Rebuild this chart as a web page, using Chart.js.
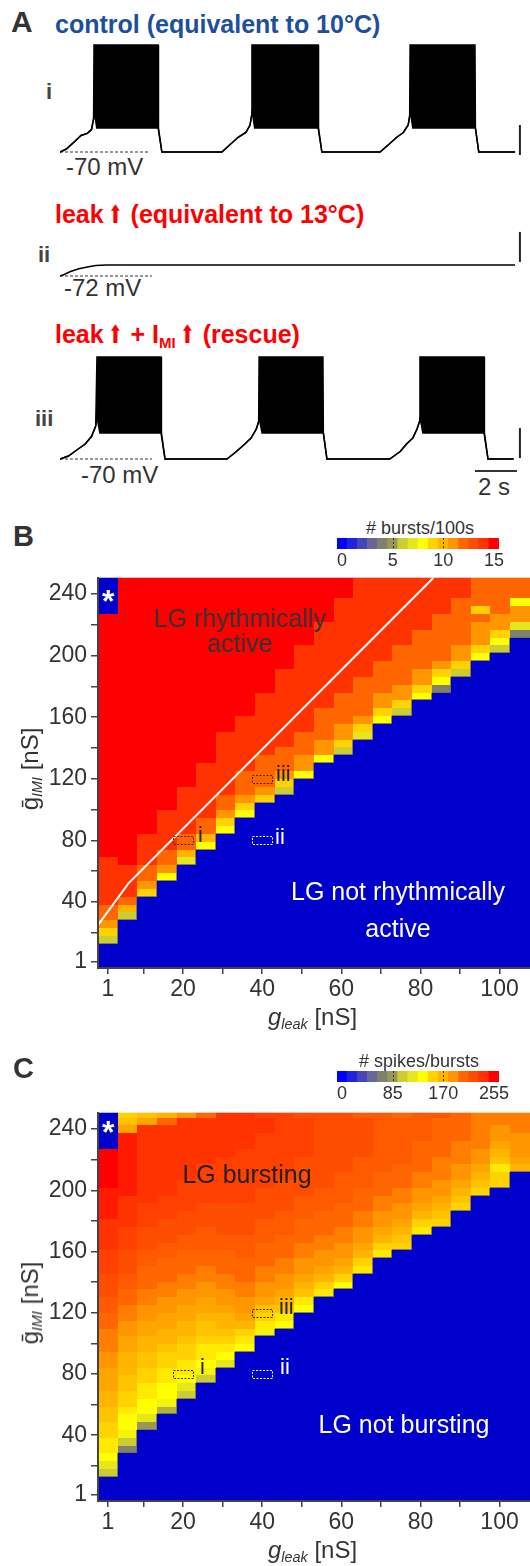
<!DOCTYPE html>
<html>
<head>
<meta charset="utf-8">
<script src="https://cdn.jsdelivr.net/npm/chart.js@4/dist/chart.umd.min.js"></script>
<style>
body { margin: 0; background: #fff; }
#fig { position: relative; width: 530px; height: 1566px; overflow: hidden; font-family: "Liberation Sans", Arial, sans-serif; color: #333; }
.t { position: absolute; white-space: nowrap; line-height: 1; }
.c { transform: translateX(-50%); }
.b { font-weight: bold; }
.red { color: #ff0000; font-weight: bold; font-size: 25px; }
.arr { font-family: "DejaVu Sans", sans-serif; display: inline-block; transform: scaleX(0.65); margin: 0 -2px 0 1px; }
sub { font-size: 0.6em; line-height: 0; vertical-align: -0.3em; }
.yt { position: absolute; white-space: nowrap; line-height: 1; font-size: 24px; transform: translate(-50%, -50%) rotate(-90deg); }
.yt sub { font-style: italic; }
canvas { position: absolute; }
</style>
</head>
<body>
<div id="fig">
  <!-- panel A -->
  <div class="t b" style="left:11px;top:7px;font-size:30px">A</div>
  <div class="t b" style="left:55px;top:12px;font-size:25px;color:#1c4f9c">control (equivalent to 10°C)</div>
  <div class="t b" style="left:46px;top:81px;font-size:22px;color:#444">i</div>
  <div class="t" style="left:66px;top:155px;font-size:24px">-70 mV</div>
  <canvas id="trace1" width="470" height="125" style="left:60px;top:40px"></canvas>

  <div class="t red" style="left:55px;top:202px">leak<span class="arr">⬆</span> (equivalent to 13°C)</div>
  <div class="t b" style="left:38px;top:244px;font-size:22px;color:#444">ii</div>
  <div class="t" style="left:64px;top:276px;font-size:24px">-72 mV</div>
  <canvas id="trace2" width="470" height="65" style="left:60px;top:225px"></canvas>

  <div class="t red" style="left:55px;top:322px">leak<span class="arr">⬆</span> + I<sub>MI</sub><span class="arr">⬆</span> (rescue)</div>
  <div class="t b" style="left:35px;top:408px;font-size:22px;color:#444">iii</div>
  <div class="t" style="left:81px;top:463px;font-size:24px">-70 mV</div>
  <div class="t" style="left:478px;top:475px;font-size:24px">2 s</div>
  <canvas id="trace3" width="470" height="128" style="left:60px;top:350px"></canvas>

  <!-- panel B -->
  <div class="t b" style="left:13px;top:522px;font-size:29px">B</div>
  <div class="t c" style="left:420px;top:519px;font-size:18px">#&nbsp;bursts/100s</div>
  <canvas id="cbB" width="200" height="45" style="left:320px;top:530px"></canvas>
  <canvas id="heatB" width="530" height="478" style="left:0px;top:560px"></canvas>
  <div class="yt" style="left:30px;top:769px">ḡ<sub>IMI</sub> [nS]</div>
  <div class="t" style="left:268px;top:1005px;font-size:24px"><i>g</i><sub><i>leak</i></sub> [nS]</div>
  <div class="t c" style="left:240px;top:606px;font-size:25px;color:#333">LG rhythmically</div>
  <div class="t c" style="left:240px;top:631px;font-size:25px;color:#333">active</div>
  <div class="t c" style="left:398px;top:879px;font-size:25px;color:#fff">LG not rhythmically</div>
  <div class="t c" style="left:398px;top:916px;font-size:25px;color:#fff">active</div>
  <div class="t b" style="left:102px;top:585px;font-size:32px;color:#fff">*</div>
  <div class="t" style="left:198px;top:824px;font-size:22px;color:#222">i</div>
  <div class="t" style="left:275px;top:826px;font-size:22px;color:#fff">ii</div>
  <div class="t" style="left:276px;top:763px;font-size:22px;color:#222">iii</div>

  <!-- panel C -->
  <div class="t b" style="left:13px;top:1054px;font-size:29px">C</div>
  <div class="t c" style="left:419px;top:1052px;font-size:18px">#&nbsp;spikes/bursts</div>
  <canvas id="cbC" width="200" height="45" style="left:320px;top:1063px"></canvas>
  <canvas id="heatC" width="530" height="476" style="left:0px;top:1095px"></canvas>
  <div class="yt" style="left:30px;top:1303px">ḡ<sub>IMI</sub> [nS]</div>
  <div class="t" style="left:268px;top:1538px;font-size:24px"><i>g</i><sub><i>leak</i></sub> [nS]</div>
  <div class="t c" style="left:247px;top:1162px;font-size:25px;color:#222">LG bursting</div>
  <div class="t c" style="left:404px;top:1412px;font-size:25px;color:#fff">LG not bursting</div>
  <div class="t b" style="left:102px;top:1116px;font-size:32px;color:#fff">*</div>
  <div class="t" style="left:200px;top:1356px;font-size:22px;color:#222">i</div>
  <div class="t" style="left:280px;top:1356px;font-size:22px;color:#fff">ii</div>
  <div class="t" style="left:279px;top:1296px;font-size:22px;color:#222">iii</div>
</div>

<script>
const FONT = '"Liberation Sans", Arial, sans-serif';

// ---- panel A: membrane potential traces (time in s, mV) ----
// lower envelope of each trace; during bursts the upper envelope sits at the spike peak
const t1 = [0, 0.3, 0.7, 1.0, 1.3, 1.5, 1.6, 1.62, 1.75, 4.67, 4.69, 4.85, 7.71, 8.1, 8.5, 8.85, 9.05, 9.12, 9.14, 9.27, 12.29, 12.31, 12.47, 15.24, 15.65, 16.05, 16.35, 16.58, 16.65, 16.67, 16.8, 19.76, 19.78, 19.94, 21.67];
const v1 = [-70, -69, -66.5, -64.5, -63.8, -62.5, -59, -56, -62, -62, -62, -70, -70, -67.5, -65, -63.5, -61, -58, -56, -62, -62, -62, -70, -70, -67.5, -65, -63.5, -61, -58, -56, -62, -62, -62, -70, -70];
const bursts1 = [[1.62, 4.67], [9.14, 12.29], [16.67, 19.76]];
const peak1 = -34.3;

const t2 = [0, 0.2, 0.5, 0.9, 1.3, 1.7, 2.2, 21.67];
const v2 = [-72, -71.5, -70.5, -69.6, -69, -68.5, -68.3, -68.3];

const t3 = [0, 0.4, 0.8, 1.2, 1.5, 1.7, 1.76, 1.9, 4.81, 4.83, 5.0, 7.95, 8.4, 8.8, 9.1, 9.35, 9.46, 9.48, 9.62, 12.52, 12.54, 12.71, 15.7, 16.2, 16.5, 16.8, 17.0, 17.12, 17.14, 17.28, 20.19, 20.21, 20.38, 21.6];
const v3 = [-70, -69, -67, -65, -62.5, -59, -56, -61.3, -61.3, -61.3, -70, -70, -67.5, -65, -63, -60, -57.5, -56, -61.3, -61.3, -61.3, -70, -70, -67.5, -65, -63, -60, -57.5, -56, -61.3, -61.3, -61.3, -70, -70];
const bursts3 = [[1.76, 4.81], [9.48, 12.52], [17.14, 20.19]];
const peak3 = -36;

const T_MAX = 22.38;

// ---- panels B & C: parameter grid ----
const gLeak = [1.0, 6.0, 10.9, 15.9, 20.8, 25.8, 30.8, 35.7, 40.7, 45.6, 50.6, 55.6, 60.5, 65.5, 70.4, 75.4, 80.4, 85.3, 90.3, 95.2, 100.2, 105.2];
const gIMI = [0, 5.1, 10.2, 15.3, 20.4, 25.5, 30.6, 35.7, 40.8, 45.9, 51.0, 56.1, 61.2, 66.3, 71.4, 76.5, 81.6, 86.7, 91.8, 96.9,
  102.0, 107.1, 112.2, 117.3, 122.4, 127.6, 132.7, 137.8, 142.9, 148.0, 153.1, 158.2, 163.3, 168.4, 173.5, 178.6, 183.7, 188.8, 193.9, 199.0,
  204.1, 209.2, 214.3, 219.4, 224.5, 229.6, 234.7, 239.8, 244.9, 250.0];

// B: bursts per 100 s, one hex digit per gIMI row (bottom -> top), one string per gLeak column
const burstsPer100s = [
  "00069bccee eeeeffffff ffffffffff ffffffffff fffff00000",
  "0000006ace eeefffffff ffffffffff ffffffffff ffffffffff",
  "0000000009 bcceeeefff ffffffffff ffffffffff ffffffffff",
  "0000000000 08bcceeeee ffffffffff ffffffffff ffffffffff",
  "0000000000 0007acceee eeefffffff ffffffffff ffffffffff",
  "0000000000 000008acce eeeeeeffff ffffffffff ffffffffff",
  "0000000000 000000089b cceeeeeeee ffffffffff ffffffffff",
  "0000000000 0000000008 9bccceeeee eeffffffff ffffffffff",
  "0000000000 0000000000 09bcccceee eeeeefffff ffffffffff",
  "0000000000 0000000000 0069bcccee eeeeeeeeff ffffffffff",
  "0000000000 0000000000 00008bbccc eeeeeeeeee efffffffff",
  "0000000000 0000000000 0000008bbc ccceeeeeee eeeeffffff",
  "0000000000 0000000000 000000069b bcccceeeee eeeeeeefff",
  "0000000000 0000000000 0000000007 9bccccceee eeeeeeeeee",
  "0000000000 0000000000 0000000000 089bbcccce eeeeeeeeee",
  "0000000000 0000000000 0000000000 0069bbcccc ceeeeeeeee",
  "0000000000 0000000000 0000000000 000089bbcc ccceeeeeee",
  "0000000000 0000000000 0000000000 00000489bc ccccceeeee",
  "0000000000 0000000000 0000000000 000000069b bcccccceee",
  "0000000000 0000000000 0000000000 0000000008 9bbbc9cccc",
  "0000000000 0000000000 0000000000 0000000000 689bbccccc",
  "0000000000 0000000000 0000000000 0000000000 0047bb8ccc"
];

// C: spikes per burst, base-32 digit x 8.5 (0 .. 255), same layout as B
const spikesPerBurst = [
  "000ceghhii jjkklllmmn nnooppqqqr rrsssstttt uuuuu00000",
  "0000008cfg ghiijjkkkl lmmnnooppq qqrrrsssst tttttttlji",
  "000000000a egghhiijjk kllmmnnooo ppqqqrrrss sssssssslj",
  "0000000000 0bfgghhiij kkllmmnnoo oppqqqrrrs ssssssssok",
  "0000000000 000ceghhii jkkllmmnno ooppqqqrrr rssssssssm",
  "0000000000 00000cfghh ijjkllmmnn oopppqqqrr rrrsssssso",
  "0000000000 0000000egh ijkklmmnno ooppqqqqrr rrrrssssss",
  "0000000000 000000000g hiklmmnnoo opppqqqqrr rrrrrsssss",
  "0000000000 0000000000 0fhijlmmnn ooopppqqqq rrrrrrrssr",
  "0000000000 0000000000 00ghjklmmn nooopppqqq qrrrrrrrrr",
  "0000000000 0000000000 0000ghjklm mnnooopppq qqqqrrrrrq",
  "0000000000 0000000000 000000hikl mmnnoooppp qqqqqqqqqq",
  "0000000000 0000000000 0000000gik lmmnnooopp ppqqqqqqqq",
  "0000000000 0000000000 000000000h iklmmnnooo ppppqqqqqp",
  "0000000000 0000000000 0000000000 0hiklmmnno oopppppppp",
  "0000000000 0000000000 0000000000 00ijklmmnn oooppppppo",
  "0000000000 0000000000 0000000000 0000hiklmm nnoooopppp",
  "0000000000 0000000000 0000000000 00000ijklm mnnnooooop",
  "0000000000 0000000000 0000000000 0000000ijk lmmnnnoooo",
  "0000000000 0000000000 0000000000 000000000i jklmmnnnnn",
  "0000000000 0000000000 0000000000 0000000000 iihjklmmnn",
  "0000000000 0000000000 0000000000 0000000000 00klmmmnnn"
];

// separatrix drawn in B (g_leak, g_IMI)
const sepX = [-1.48, 6.2, 83.3];
const sepY = [25, 52, 250.6];

// marked parameter sets i, ii, iii (g_leak, g_IMI)
const markX = [20, 40, 40];
const markY = [80, 80, 120];
const markColor = ['#333', '#fff', '#333'];

// axis ticks
const xTicks = [1, 10, 20, 30, 40, 50, 60, 70, 80, 90, 100];
const xTickLabels = [1, 20, 40, 60, 80, 100];
const yTicks = [1, 20, 40, 60, 80, 100, 120, 140, 160, 180, 200, 220, 240];
const yTickLabels = [1, 40, 80, 120, 160, 200, 240];

// colour bar: 16 levels
const cbLevels = ['0', '1', '2', '3', '4', '5', '6', '7', '8', '9', '10', '11', '12', '13', '14', '15'];
const cbTickAt = [0, 5, 10, 15];
const cbLabelsB = ['0', '5', '10', '15'];
const cbLabelsC = ['0', '85', '170', '255'];
const palette = [
  [0, 0, 255], [34, 34, 221], [68, 68, 187], [102, 102, 153], [128, 128, 110], [153, 153, 85],
  [204, 204, 51], [230, 230, 26], [255, 255, 0], [255, 210, 0], [255, 180, 0], [255, 150, 0],
  [255, 102, 0], [255, 77, 0], [255, 51, 0], [255, 0, 0]
];
const EMPTY = '#0000cc';

const rgb = c => `rgb(${c[0]},${c[1]},${c[2]})`;
function levelColor(p) {
  // p on the 0..15 colour-bar scale, linear between neighbouring levels
  if (p <= 0) return EMPTY;
  const i = Math.min(14, Math.floor(p)), f = Math.min(1, p - i);
  const a = palette[i], b = palette[i + 1];
  return rgb([0, 1, 2].map(k => Math.round(a[k] + (b[k] - a[k]) * f)));
}

// ---- trace charts ----
const pts = (xs, ys) => xs.map((x, i) => ({ x, y: ys[i] }));
const lineDs = (data, color, width, dash) => ({
  data, borderColor: color, borderWidth: width, borderDash: dash || [],
  showLine: true, pointRadius: 0, fill: false, clip: false
});

function traceChart(id, t, lo, bursts, peak, yMin, yMax, extras) {
  const ds = [lineDs(pts(t, lo), '#000', 1.5)];
  if (bursts) {
    const hi = t.map((x, i) => bursts.some(b => x >= b[0] && x <= b[1]) ? peak : lo[i]);
    const up = lineDs(pts(t, hi), '#000', 1.5);
    up.fill = '-1';
    up.backgroundColor = '#000';
    ds.push(up);
  }
  extras.forEach(e => ds.push(lineDs(e.data, e.color, e.width, e.dash)));
  return new Chart(document.getElementById(id), {
    type: 'scatter',
    data: { datasets: ds },
    options: {
      responsive: false, animation: false, devicePixelRatio: 1,
      layout: { padding: 0 },
      elements: { line: { tension: 0 } },
      plugins: { legend: { display: false }, tooltip: { enabled: false } },
      scales: {
        x: { type: 'linear', display: false, min: 0, max: T_MAX },
        y: { type: 'linear', display: false, min: yMin, max: yMax }
      }
    }
  });
}

traceChart('trace1', t1, v1, bursts1, peak1, -74.33, -32.67, [
  { data: [{ x: 0, y: -70 }, { x: 4.19, y: -70 }], color: '#333', width: 1.2, dash: [3, 2] },
  { data: [{ x: 21.9, y: -71 }, { x: 21.9, y: -61 }], color: '#222', width: 2 }
]);
traceChart('trace2', t2, v2, null, null, -76.67, -55, [
  { data: [{ x: 0, y: -72 }, { x: 4.38, y: -72 }], color: '#333', width: 1.2, dash: [3, 2] },
  { data: [{ x: 21.9, y: -67.3 }, { x: 21.9, y: -57.3 }], color: '#222', width: 2 }
]);
traceChart('trace3', t3, v3, bursts3, peak3, -76.33, -33.67, [
  { data: [{ x: 0, y: -70 }, { x: 4.38, y: -70 }], color: '#333', width: 1.2, dash: [3, 2] },
  { data: [{ x: 21.9, y: -69.7 }, { x: 21.9, y: -59.7 }], color: '#222', width: 2 },
  { data: [{ x: 19.76, y: -74 }, { x: 21.76, y: -74 }], color: '#333', width: 2 }
]);

// ---- heat maps ----
function edges(v) {
  const e = [v[0] - (v[1] - v[0]) / 2];
  for (let i = 1; i < v.length; i++) e.push((v[i - 1] + v[i]) / 2);
  e.push(v[v.length - 1] + (v[v.length - 1] - v[v.length - 2]) / 2);
  return e;
}
const colEdges = edges(gLeak);
const rowEdges = edges(gIMI);

const heatPlugin = {
  id: 'heat',
  beforeDatasetsDraw(chart, args, o) {
    const { ctx, chartArea: a, scales: { x, y } } = chart;
    const grid = o.cols.map(s => s.replace(/\s/g, '').split('').map(o.decode));
    ctx.save();
    ctx.beginPath();
    ctx.rect(a.left, a.top, a.width, a.height);
    ctx.clip();
    ctx.fillStyle = EMPTY;
    ctx.fillRect(a.left, a.top, a.width, a.height);
    const px = i => Math.round(x.getPixelForValue(colEdges[i]));
    const py = r => Math.round(y.getPixelForValue(rowEdges[r]));
    grid.forEach((col, i) => {
      col.forEach((v, r) => {
        ctx.fillStyle = o.color(v);
        ctx.fillRect(px(i), py(r + 1), px(i + 1) - px(i), py(r) - py(r + 1));
      });
    });
    // thin edge along the border with the silent region
    ctx.strokeStyle = 'rgba(110,110,70,0.8)';
    ctx.lineWidth = 1;
    ctx.beginPath();
    grid.forEach((col, i) => {
      col.forEach((v, r) => {
        if (!v) return;
        if (r > 0 && !col[r - 1]) { ctx.moveTo(px(i), py(r) - 0.5); ctx.lineTo(px(i + 1), py(r) - 0.5); }
        if (i < grid.length - 1 && !grid[i + 1][r]) { ctx.moveTo(px(i + 1) - 0.5, py(r + 1)); ctx.lineTo(px(i + 1) - 0.5, py(r)); }
      });
    });
    ctx.stroke();
    ctx.restore();
  },
  afterDatasetsDraw(chart) {
    const { ctx, scales: { x, y } } = chart;
    ctx.save();
    ctx.lineWidth = 1;
    ctx.setLineDash([2, 1.5]);
    markX.forEach((gx, k) => {
      const x0 = x.getPixelForValue(gx - 2.48), x1 = x.getPixelForValue(gx + 2.48);
      const y0 = y.getPixelForValue(markY[k] + 2.55), y1 = y.getPixelForValue(markY[k] - 2.55);
      ctx.strokeStyle = markColor[k];
      ctx.strokeRect(Math.round(x0) + 0.5, Math.round(y0) + 0.5, Math.round(x1 - x0), Math.round(y1 - y0));
    });
    ctx.restore();
  }
};

function heatChart(id, cols, decode, color, datasets) {
  return new Chart(document.getElementById(id), {
    type: 'scatter',
    data: { datasets },
    options: {
      responsive: false, animation: false, devicePixelRatio: 1,
      layout: { padding: { top: 10, right: 0, left: 0, bottom: 0 } },
      plugins: { legend: { display: false }, tooltip: { enabled: false }, heat: { cols, decode, color } },
      scales: {
        x: {
          type: 'linear', min: colEdges[0], max: 107.7,
          afterBuildTicks: s => { s.ticks = xTicks.map(v => ({ value: v })); },
          afterFit: s => { s.height = 70; },
          ticks: {
            autoSkip: false, maxRotation: 0, padding: 2, color: '#333', font: { size: 23, family: FONT },
            callback: v => xTickLabels.includes(v) ? String(v) : ''
          },
          grid: { drawOnChartArea: false, drawTicks: true, tickLength: 6, color: '#444', lineWidth: 1.5, z: 1 },
          border: { color: '#444', width: 2, z: 1 }
        },
        y: {
          type: 'linear', min: -3, max: 250.6,
          afterBuildTicks: s => { s.ticks = yTicks.map(v => ({ value: v })); },
          afterFit: s => { s.width = 98; },
          ticks: {
            autoSkip: false, padding: 4, color: '#333', font: { size: 23, family: FONT },
            callback: v => yTickLabels.includes(v) ? String(v) : ''
          },
          grid: { drawOnChartArea: false, drawTicks: true, tickLength: 7, color: '#444', lineWidth: 1.5, z: 1 },
          border: { color: '#444', width: 2, z: 1 }
        }
      }
    },
    plugins: [heatPlugin]
  });
}

heatChart('heatB', burstsPer100s, ch => parseInt(ch, 16), v => v ? rgb(palette[v]) : EMPTY, [
  lineDs(pts(sepX, sepY), '#fff', 2)
].map(d => Object.assign(d, { clip: 0 })));

heatChart('heatC', spikesPerBurst, ch => parseInt(ch, 32) * 8.5, v => levelColor(v / 17), []);

// ---- colour bars ----
const cbDashPlugin = {
  id: 'cbDash',
  afterDatasetsDraw(chart) {
    const { ctx, chartArea: a, scales: { x } } = chart;
    ctx.save();
    ctx.strokeStyle = '#333';
    ctx.lineWidth = 1;
    ctx.setLineDash([2, 2]);
    [5, 10].forEach(i => {
      const xp = Math.round(x.getPixelForValue(i)) + 0.5;
      ctx.beginPath();
      ctx.moveTo(xp, a.top);
      ctx.lineTo(xp, a.bottom);
      ctx.stroke();
    });
    ctx.restore();
  }
};

function colorbar(id, labels) {
  return new Chart(document.getElementById(id), {
    type: 'bar',
    data: {
      labels: cbLevels,
      datasets: [{
        data: cbLevels.map(() => 1), backgroundColor: palette.map(rgb),
        borderWidth: 0, barPercentage: 1, categoryPercentage: 1
      }]
    },
    options: {
      responsive: false, animation: false, devicePixelRatio: 1,
      layout: { padding: { top: 8, left: 17, right: 21, bottom: 0 } },
      plugins: { legend: { display: false }, tooltip: { enabled: false } },
      scales: {
        x: {
          grid: { display: false, drawTicks: false }, border: { display: false },
          afterFit: s => { s.height = 26; },
          ticks: {
            autoSkip: false, maxRotation: 0, padding: 1, color: '#333', font: { size: 18, family: FONT },
            callback: (v, i) => { const k = cbTickAt.indexOf(i); return k < 0 ? '' : labels[k]; }
          }
        },
        y: { display: false, min: 0, max: 1 }
      }
    },
    plugins: [cbDashPlugin]
  });
}

colorbar('cbB', cbLabelsB);
colorbar('cbC', cbLabelsC);
</script>
</body>
</html>
